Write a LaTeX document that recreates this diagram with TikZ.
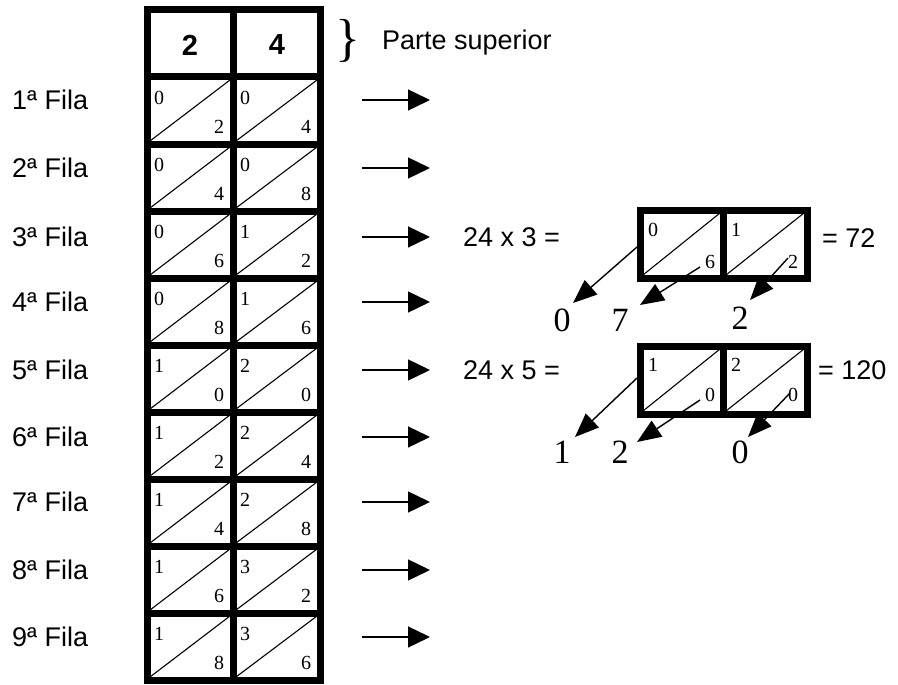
\documentclass[tikz,border=0pt]{standalone}
\usepackage{fontspec}
\setmainfont{Liberation Serif}
\newfontfamily\arial{Liberation Sans}
\usetikzlibrary{arrows.meta}

\tikzset{
  thickbox/.style={line width=7pt},
  diag/.style={line width=1.1pt},
  smalldig/.style={font=\fontsize{20}{20}\selectfont, inner sep=0pt},
  bigdig/.style={font=\fontsize{34}{34}\selectfont, inner sep=0pt},
  lbl/.style={font=\arial\fontsize{27}{27}\selectfont, inner sep=0pt},
  rowarr/.style={line width=1.4pt, -{Triangle[length=22pt,width=21pt]}},
  diagarr/.style={line width=1.4pt, -{Triangle[length=24pt,width=19pt]}},
}

\begin{document}
\begin{tikzpicture}[x=1pt,y=-1pt]
\useasboundingbox (0,0) rectangle (898,685);
% main grid
\draw [thickbox] (147,10) rectangle (320,680);
\draw [thickbox] (233,10) -- (233,680);
\foreach \k in {1,...,9}
  \draw [thickbox] (147,10+67*\k) -- (320,10+67*\k);
\node [lbl, font=\arial\bfseries\fontsize{29}{29}\selectfont] (h2) at (190,45) {2};
\node [lbl, font=\arial\bfseries\fontsize{29}{29}\selectfont] (h4) at (277,45) {4};
\node [inner sep=0pt, font=\fontsize{52}{52}\selectfont] (brace) at (348,41) {\}};
\node [lbl, anchor=west] (sup) at (382,43) {Parte superior};
% rows
\foreach \r/\a/\b/\c/\d/\ly in {1/0/2/0/4/100,2/0/4/0/8/168,3/0/6/1/2/237,
    4/0/8/1/6/302,5/1/0/2/0/370,6/1/2/2/4/437,7/1/4/2/8/502,8/1/6/3/2/570,
    9/1/8/3/6/637}{
  \pgfmathsetmacro{\yt}{10+67*\r}
  \pgfmathsetmacro{\yb}{77+67*\r}
  \draw [diag] (150,\yb-3) -- (230,\yt+3);
  \draw [diag] (236,\yb-3) -- (317,\yt+3);
  \node [smalldig] (c\r a) at (159,\yt+21) {\a};
  \node [smalldig] (c\r b) at (219,\yb-17) {\b};
  \node [smalldig] (c\r c) at (245,\yt+21) {\c};
  \node [smalldig] (c\r d) at (306,\yb-17) {\d};
  \node [lbl, anchor=west] (fila\r) at (12,\ly) {\r ª Fila};
  \coordinate (s\r) at (362,\ly);
  \coordinate (e\r) at (430,\ly);
  \draw [rowarr] (s\r) -- (e\r);
}
%
% 24 x 3
\node [lbl, anchor=west] (m3) at (463,237) {24 x 3 =};
\draw [thickbox] (640,210) rectangle (807,278);
\draw [thickbox] (723,210) -- (723,278);
\draw [diag] (643,275) -- (720,213);
\draw [diag] (726,275) -- (804,213);
\node [smalldig] (p3a) at (653,230) {0};
\node [smalldig] (p3b) at (710,262) {6};
\node [smalldig] (p3c) at (736,230) {1};
\node [smalldig] (p3d) at (793,262) {2};
\node [lbl, anchor=west] (r3) at (822,238) {= 72};
\node [bigdig] (r3a) at (562,320) {0};
\node [bigdig] (r3b) at (620,320) {7};
\node [bigdig] (r3c) at (740,318) {2};
\coordinate (t3a) at (637,247);
\coordinate (t3b) at (700,267);
\coordinate (t3c) at (788,258);
\draw [diagarr] (t3a) -- (573,303);
\draw [diagarr] (t3b) -- (640,305);
\draw [diagarr] (t3c) -- (750,300);
%
% 24 x 5
\node [lbl, anchor=west] (m5) at (463,370) {24 x 5 =};
\draw [thickbox] (640,346) rectangle (807,414);
\draw [thickbox] (723,346) -- (723,414);
\draw [diag] (643,411) -- (720,349);
\draw [diag] (726,411) -- (804,349);
\node [smalldig] (p5a) at (653,365) {1};
\node [smalldig] (p5b) at (710,395) {0};
\node [smalldig] (p5c) at (736,365) {2};
\node [smalldig] (p5d) at (793,395) {0};
\node [lbl, anchor=west] (r5) at (818,370) {= 120};
\node [bigdig] (r5a) at (562,452) {1};
\node [bigdig] (r5b) at (620,452) {2};
\node [bigdig] (r5c) at (740,452) {0};
\coordinate (t5a) at (637,378);
\coordinate (t5b) at (700,400);
\coordinate (t5c) at (790,393);
\draw [diagarr] (t5a) -- (575,437);
\draw [diagarr] (t5b) -- (637,442);
\draw [diagarr] (t5c) -- (748,437);
\end{tikzpicture}
\end{document}
